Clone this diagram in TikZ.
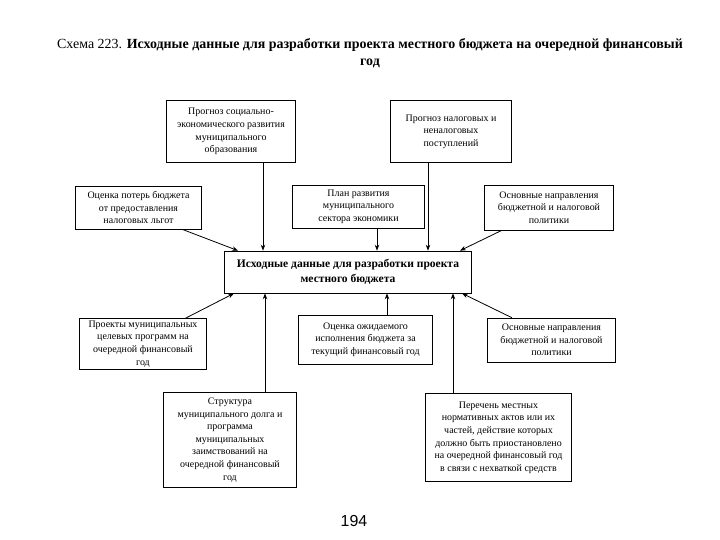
\documentclass[tikz,border=0pt]{standalone}
\usepackage{fontspec}
\setmainfont{Liberation Serif}
\newfontfamily\pagefont{Liberation Sans}
\usetikzlibrary{arrows.meta}

\begin{document}
\begin{tikzpicture}[x=1bp, y=-1bp,
    blok/.style={draw, line width=0.8bp, align=center, inner sep=2bp, font=\fontsize{10}{12.7}\selectfont},
    glavn/.style={blok, font=\fontsize{11.6}{15}\selectfont\bfseries},
    arrow/.style={-{Stealth[length=6bp,width=4.5bp]}, line width=0.8bp}
]
\useasboundingbox (0,0) rectangle (720,540);

\node[align=center, font=\fontsize{14}{17}\selectfont] (title) at (370,53) {Схема 223. \textbf{Исходные данные для разработки проекта местного бюджета на очередной финансовый}\\\textbf{год}};

% входящие блоки сверху
\node[blok, minimum width=130, minimum height=63] (A) at (231,131.5) {Прогноз социально-\\экономического развития\\муниципального\\образования};
\node[blok, minimum width=122, minimum height=63] (B) at (451,131.5) {Прогноз налоговых и\\неналоговых\\поступлений};
\node[blok, minimum width=127, minimum height=43] (C) at (138.5,207.5) {Оценка потерь бюджета\\от предоставления\\налоговых льгот};
\node[blok, minimum width=133, minimum height=43] (D) at (358.5,206.5) {План развития\\муниципального\\сектора экономики};
\node[blok, minimum width=130, minimum height=45] (E) at (549,207.5) {Основные направления\\бюджетной и налоговой\\политики};

% центральный блок
\node[glavn, minimum width=248, minimum height=42] (F) at (348,272) {Исходные данные для разработки проекта\\местного бюджета};

% блоки снизу
\node[blok, minimum width=128, minimum height=50] (G) at (143,344) {Проекты муниципальных\\целевых программ на\\очередной финансовый\\год};
\node[blok, minimum width=135, minimum height=49] (H) at (365.5,339.5) {Оценка ожидаемого\\исполнения бюджета за\\текущий финансовый год};
\node[blok, minimum width=129, minimum height=44] (I) at (551.5,340) {Основные направления\\бюджетной и налоговой\\политики};
\node[blok, minimum width=134, minimum height=96] (J) at (230,440) {Структура\\муниципального долга и\\программа\\муниципальных\\заимствований на\\очередной финансовый\\год};
\node[blok, minimum width=147, minimum height=89] (K) at (498.5,437.5) {Перечень местных\\нормативных актов или их\\частей, действие которых\\должно быть приостановлено\\на очередной финансовый год\\в связи с нехваткой средств};

\node[font=\pagefont\fontsize{16}{16}\selectfont] (page) at (354,521) {194};

\coordinate (xa) at (263,0);
\coordinate (xd) at (377,0);
\coordinate (xb) at (428,0);
\coordinate (xh) at (387,0);
\coordinate (xj) at (265,0);
\coordinate (xk) at (453,0);

\draw[arrow] ([xshift=-20bp]C.south east) -- ([xshift=14bp]F.north west);
\draw[arrow] (A.south -| xa) -- (F.north -| xa);
\draw[arrow] (D.south -| xd) -- (F.north -| xd);
\draw[arrow] (B.south -| xb) -- (F.north -| xb);
\draw[arrow] ([xshift=18bp]E.south west) -- ([xshift=-12bp]F.north east);

\draw[arrow] ([xshift=-22bp]G.north east) -- ([xshift=10bp]F.south west);
\draw[arrow] (H.north -| xh) -- (F.south -| xh);
\draw[arrow] ([xshift=25bp]I.north west) -- ([xshift=-10bp]F.south east);
\draw[arrow] (J.north -| xj) -- (F.south -| xj);
\draw[arrow] (K.north -| xk) -- (F.south -| xk);

\end{tikzpicture}
\end{document}
